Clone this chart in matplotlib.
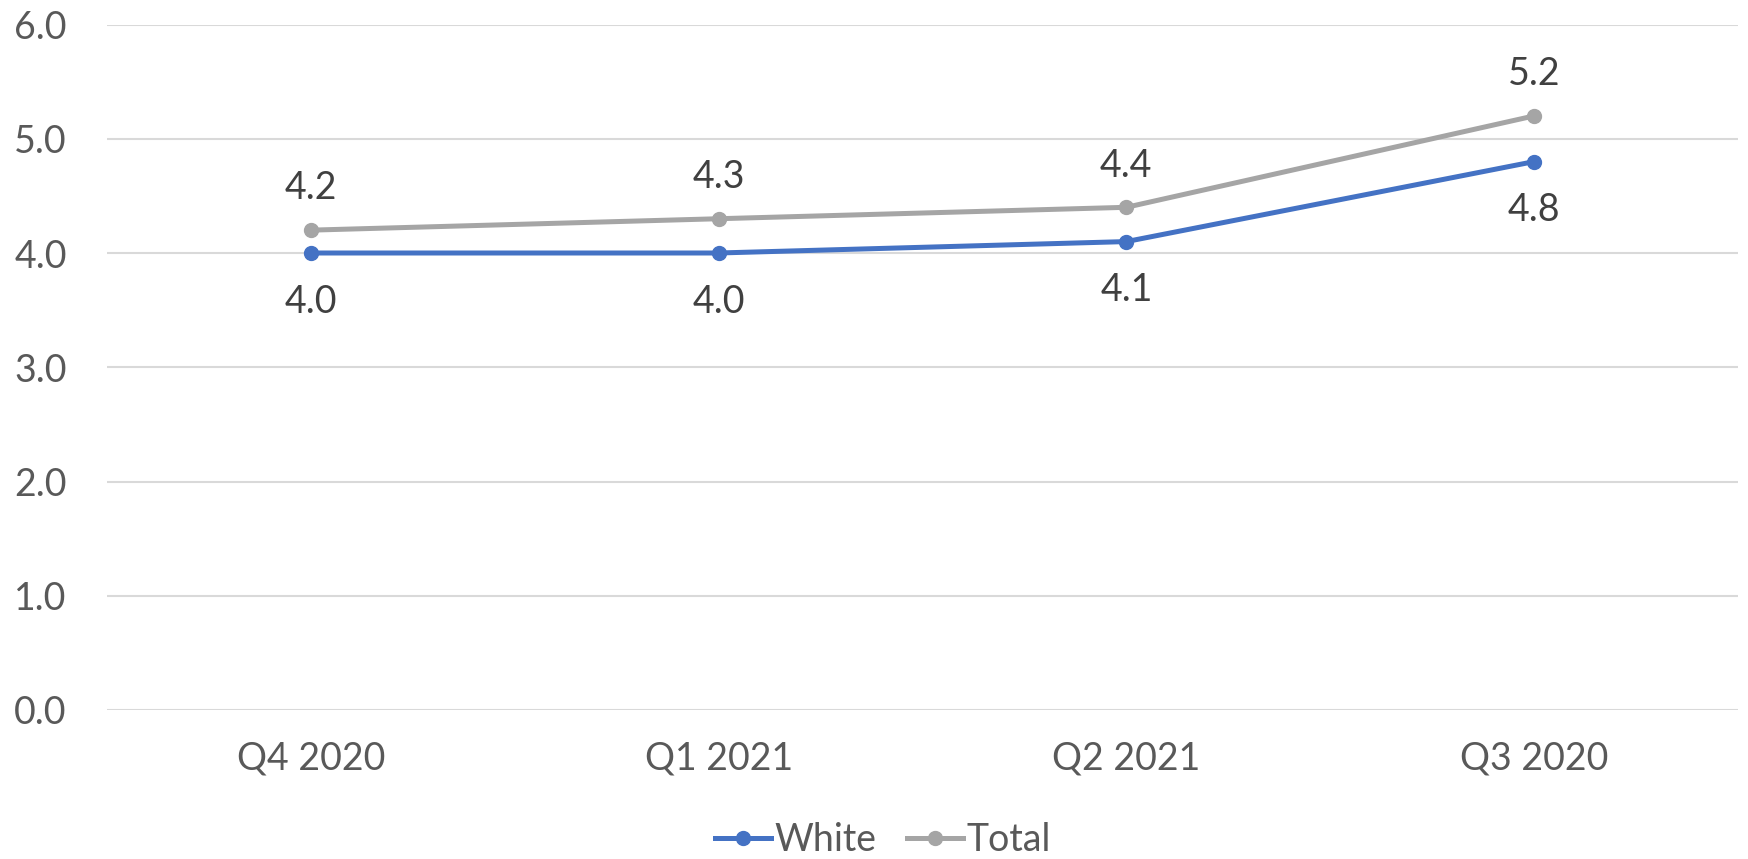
import matplotlib
matplotlib.use("Agg")
import matplotlib.pyplot as plt
from matplotlib.lines import Line2D

categories = ["Q4 2020", "Q1 2021", "Q2 2021", "Q3 2020"]
white = [4.0, 4.0, 4.1, 4.8]
total = [4.2, 4.3, 4.4, 5.2]
yticks = [0.0, 1.0, 2.0, 3.0, 4.0, 5.0, 6.0]

BLUE = "#4472C4"
GRAY = "#A5A5A5"
FONT = "Lato"

W, H = 1748, 859
fig = plt.figure(figsize=(W / 100, H / 100), dpi=100)
ax = fig.add_axes([107 / W, 1 - 710 / H, (1738 - 107) / W, (710 - 24.5) / H])

x = list(range(len(categories)))
ax.plot(x, total, color=GRAY, lw=3.6, marker="o", ms=10, solid_capstyle="round", zorder=3)
ax.plot(x, white, color=BLUE, lw=3.6, marker="o", ms=10, solid_capstyle="round", zorder=4)

for xi, v in zip(x, total):
    ax.annotate(f"{v:.1f}", (xi, v), xytext=(0, 30), textcoords="offset points",
                ha="center", va="center", fontsize=27, color="#404040", family=FONT)
for xi, v in zip(x, white):
    ax.annotate(f"{v:.1f}", (xi, v), xytext=(0, -35), textcoords="offset points",
                ha="center", va="center", fontsize=27, color="#404040", family=FONT)

ax.set_xlim(-0.5, len(categories) - 0.5)
ax.set_ylim(0, 6)
ax.set_yticks(yticks)
ax.set_yticklabels([f"{t:.1f}" for t in yticks])
ax.set_xticks(x)
ax.set_xticklabels(categories)
ax.yaxis.grid(True, color="#D9D9D9", lw=1.5)
ax.set_axisbelow(True)
for s in ax.spines.values():
    s.set_visible(False)
ax.tick_params(axis="both", length=0, labelsize=27, labelcolor="#595959")
ax.tick_params(axis="y", pad=29)
ax.tick_params(axis="x", pad=22)
for lab in ax.get_xticklabels() + ax.get_yticklabels():
    lab.set_family(FONT)

handles = [Line2D([], [], color=BLUE, lw=3.6, marker="o", ms=10),
           Line2D([], [], color=GRAY, lw=3.6, marker="o", ms=10)]
leg = fig.legend(handles, ["White", "Total"], loc="center", bbox_to_anchor=(883 / W, 1 - 840 / H),
                 ncol=2, frameon=False, prop={"family": FONT, "size": 27},
                 handlelength=1.5, handletextpad=0.1, columnspacing=0.8, labelcolor="#595959")

fig.savefig("out.png", dpi=100)
